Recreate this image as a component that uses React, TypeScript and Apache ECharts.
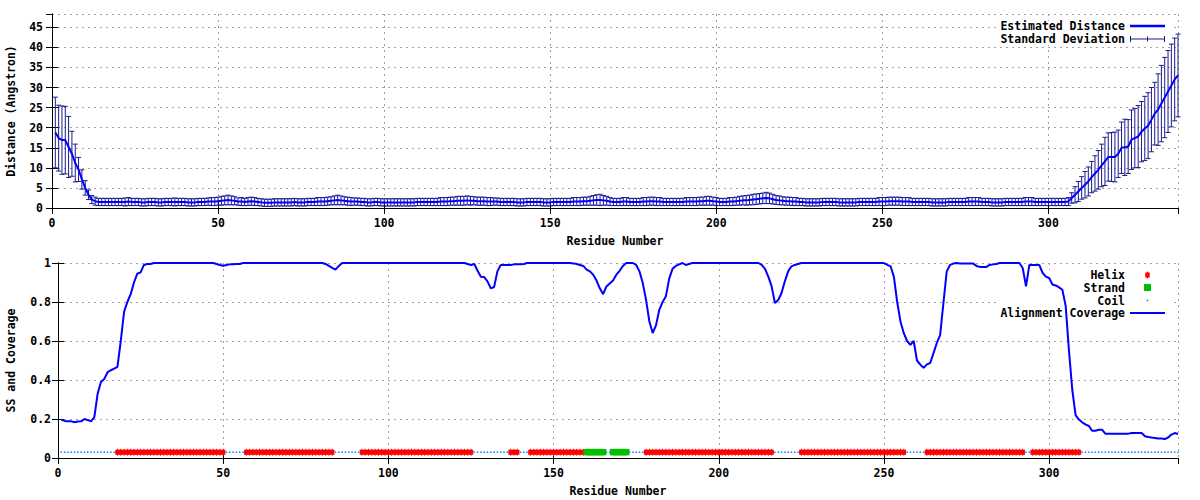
import React, { useEffect, useRef } from 'react';
import * as echarts from 'echarts';

// ---------- data ----------
const RESIDUE_MAX = 339;
const X_TICK_STEP = 50;
const DIST_TICK_STEP = 5;
const DIST_AXIS_MAX = 48.3;
const SS_LEVEL = 0.03;

// Estimated distance (Angstrom), residues 1-14
const distStart = [18.8, 17.4, 16.9, 16.9, 15.2, 13.5, 11.2, 9.6, 7.1, 5.0, 3.3, 2.1, 1.7, 1.5];
// residues 15-305
const distMid = [
  1.5, 1.5, 1.5, 1.5, 1.5, 1.5, 1.5, 1.5, 1.6, 1.5,
  1.5, 1.5, 1.4, 1.4, 1.5, 1.5, 1.5, 1.4, 1.4, 1.5,
  1.5, 1.5, 1.5, 1.5, 1.5, 1.5, 1.4, 1.4, 1.4, 1.5,
  1.5, 1.5, 1.6, 1.6, 1.6, 1.7, 1.8, 1.9, 2.0, 1.9,
  1.8, 1.6, 1.6, 1.5, 1.6, 1.7, 1.6, 1.5, 1.4, 1.3,
  1.3, 1.3, 1.4, 1.4, 1.4, 1.4, 1.4, 1.4, 1.5, 1.4,
  1.4, 1.4, 1.5, 1.5, 1.5, 1.6, 1.6, 1.6, 1.7, 1.8,
  1.9, 2.0, 1.9, 1.8, 1.7, 1.6, 1.6, 1.6, 1.5, 1.5,
  1.4, 1.4, 1.5, 1.5, 1.4, 1.4, 1.4, 1.4, 1.4, 1.4,
  1.4, 1.4, 1.4, 1.4, 1.4, 1.5, 1.5, 1.5, 1.5, 1.5,
  1.5, 1.5, 1.6, 1.6, 1.6, 1.7, 1.7, 1.8, 1.8, 1.8,
  1.9, 1.8, 1.8, 1.7, 1.7, 1.7, 1.6, 1.6, 1.6, 1.6,
  1.5, 1.5, 1.5, 1.5, 1.5, 1.4, 1.4, 1.4, 1.5, 1.5,
  1.5, 1.5, 1.5, 1.4, 1.4, 1.4, 1.5, 1.5, 1.5, 1.5,
  1.5, 1.5, 1.6, 1.6, 1.6, 1.7, 1.7, 1.8, 1.9, 2.0,
  2.0, 1.9, 1.8, 1.6, 1.5, 1.5, 1.5, 1.6, 1.6, 1.5,
  1.5, 1.5, 1.5, 1.6, 1.6, 1.7, 1.7, 1.6, 1.6, 1.5,
  1.5, 1.5, 1.5, 1.5, 1.5, 1.5, 1.6, 1.6, 1.6, 1.6,
  1.7, 1.7, 1.8, 1.8, 1.7, 1.6, 1.5, 1.5, 1.5, 1.6,
  1.6, 1.7, 1.8, 1.9, 1.9, 2.0, 2.1, 2.2, 2.3, 2.4,
  2.5, 2.4, 2.2, 2.0, 1.9, 1.8, 1.7, 1.7, 1.6, 1.6,
  1.5, 1.5, 1.4, 1.4, 1.4, 1.4, 1.4, 1.5, 1.5, 1.5,
  1.5, 1.5, 1.4, 1.4, 1.4, 1.4, 1.4, 1.4, 1.5, 1.5,
  1.5, 1.5, 1.5, 1.5, 1.6, 1.6, 1.6, 1.7, 1.7, 1.7,
  1.7, 1.6, 1.6, 1.6, 1.5, 1.5, 1.5, 1.5, 1.5, 1.5,
  1.4, 1.4, 1.4, 1.4, 1.4, 1.5, 1.5, 1.5, 1.5, 1.5,
  1.5, 1.6, 1.6, 1.6, 1.6, 1.5, 1.5, 1.5, 1.4, 1.4,
  1.4, 1.4, 1.5, 1.5, 1.5, 1.5, 1.5, 1.5, 1.6, 1.6,
  1.6, 1.5, 1.5, 1.5, 1.5, 1.5, 1.5, 1.5, 1.5, 1.5,
  1.5,
];
// residues 306-339
const distEnd = [
  1.6, 2.5, 3.3, 4.1, 5.0, 5.8, 6.6, 7.7, 8.6, 9.5,
  10.6, 11.6, 12.7, 12.7, 12.7, 13.5, 15.0, 15.1, 15.3, 17.0,
  17.4, 17.8, 19.0, 19.8, 20.5, 22.0, 23.5, 24.5, 26.0, 27.5,
  29.0, 30.5, 32.0, 33.0,
];

// Standard deviation, same residue ranges
const sdStart = [8.8, 8.2, 8.5, 8.4, 7.6, 5.6, 4.7, 3.0, 2.4, 1.8, 1.2, 1.0, 1.0, 0.9];
const sdMid = [
  0.9, 0.9, 0.9, 0.9, 0.9, 0.9, 0.9, 1.0, 1.0, 0.9,
  0.9, 0.9, 0.9, 0.9, 0.9, 0.9, 0.9, 0.9, 0.9, 0.9,
  0.9, 0.9, 1.0, 0.9, 0.9, 0.9, 0.9, 0.9, 0.9, 0.9,
  0.9, 0.9, 0.9, 1.0, 1.0, 1.0, 1.1, 1.1, 1.2, 1.1,
  1.0, 0.9, 1.0, 0.9, 1.0, 1.0, 1.0, 0.9, 0.9, 0.9,
  0.9, 0.9, 0.9, 0.9, 0.9, 0.9, 0.9, 0.9, 0.9, 0.9,
  0.9, 0.9, 0.9, 0.9, 0.9, 1.0, 1.0, 1.0, 1.0, 1.0,
  1.1, 1.2, 1.1, 1.0, 1.0, 1.0, 0.9, 0.9, 0.9, 0.9,
  0.9, 0.9, 0.9, 0.9, 0.9, 0.9, 0.9, 0.9, 0.9, 0.9,
  0.9, 0.9, 0.9, 0.9, 0.9, 0.9, 0.9, 0.9, 0.9, 0.9,
  0.9, 0.9, 1.0, 1.0, 1.0, 1.0, 1.0, 1.1, 1.1, 1.1,
  1.1, 1.1, 1.0, 1.0, 1.0, 1.0, 1.0, 1.0, 0.9, 0.9,
  0.9, 0.9, 0.9, 0.9, 0.9, 0.9, 0.9, 0.9, 0.9, 0.9,
  0.9, 0.9, 0.9, 0.9, 0.9, 0.9, 0.9, 0.9, 0.9, 0.9,
  0.9, 0.9, 1.0, 1.0, 1.0, 1.0, 1.0, 1.1, 1.2, 1.3,
  1.4, 1.2, 1.1, 1.0, 0.9, 0.9, 0.9, 1.0, 1.0, 0.9,
  0.9, 0.9, 0.9, 1.0, 1.0, 1.0, 1.0, 1.0, 1.0, 0.9,
  0.9, 0.9, 0.9, 0.9, 0.9, 0.9, 1.0, 1.0, 1.0, 1.0,
  1.0, 1.0, 1.1, 1.1, 1.0, 1.0, 0.9, 0.9, 0.9, 1.0,
  1.0, 1.0, 1.1, 1.1, 1.2, 1.2, 1.3, 1.3, 1.3, 1.3,
  1.4, 1.3, 1.2, 1.1, 1.1, 1.0, 1.0, 1.0, 1.0, 1.0,
  0.9, 0.9, 0.9, 0.9, 0.9, 0.9, 0.9, 0.9, 0.9, 0.9,
  0.9, 0.9, 0.9, 0.9, 0.9, 0.9, 0.9, 0.9, 0.9, 0.9,
  0.9, 0.9, 0.9, 0.9, 1.0, 1.0, 1.0, 1.0, 1.0, 1.0,
  1.0, 1.0, 1.0, 1.0, 0.9, 0.9, 0.9, 0.9, 0.9, 0.9,
  0.9, 0.9, 0.9, 0.9, 0.9, 0.9, 0.9, 0.9, 0.9, 0.9,
  0.9, 1.0, 1.0, 1.0, 1.0, 0.9, 0.9, 0.9, 0.9, 0.9,
  0.9, 0.9, 0.9, 0.9, 0.9, 0.9, 0.9, 0.9, 1.0, 1.0,
  1.0, 0.9, 0.9, 0.9, 0.9, 0.9, 0.9, 0.9, 0.9, 0.9,
  0.9,
];
const sdEnd = [
  1.0, 1.3, 2.0, 2.5, 2.8, 3.3, 3.6, 3.9, 4.4, 4.8,
  5.3, 6.0, 6.0, 6.1, 6.2, 5.9, 6.4, 7.0, 6.7, 7.4,
  7.4, 7.7, 7.5, 8.0, 8.2, 8.0, 7.8, 8.9, 9.5, 10.0,
  10.2, 10.3, 10.3, 10.3,
];

// Alignment coverage per residue 1-339
const coverage = [
  0.197, 0.19, 0.188, 0.188, 0.183, 0.187, 0.188, 0.2, 0.194, 0.188,
  0.21, 0.33, 0.39, 0.405, 0.44, 0.45, 0.458, 0.467, 0.6, 0.75,
  0.8, 0.84, 0.9, 0.945, 0.952, 0.99, 0.995, 0.995, 1, 1,
  1, 1, 1, 1, 1, 1, 1, 1, 1, 1,
  1, 1, 1, 1, 1, 1, 1, 0.995, 0.99, 0.986,
  0.99, 0.993, 0.993, 0.995, 0.995, 1, 1, 1, 1, 1,
  1, 1, 1, 1, 1, 1, 1, 1, 1, 1,
  1, 1, 1, 1, 1, 1, 1, 1, 1, 1,
  0.995, 0.985, 0.975, 0.966, 0.985, 1, 1, 1, 1, 1,
  1, 1, 1, 1, 1, 1, 1, 1, 1, 1,
  1, 1, 1, 1, 1, 1, 1, 1, 1, 1,
  1, 1, 1, 1, 1, 1, 1, 1, 1, 1,
  1, 1, 1, 0.995, 0.99, 0.995, 0.96, 0.93, 0.928, 0.906,
  0.87, 0.877, 0.957, 0.99, 0.99, 0.99, 0.99, 0.993, 0.993, 0.993,
  0.995, 1, 1, 1, 1, 1, 1, 1, 1, 1,
  1, 1, 1, 1, 1, 0.998, 0.995, 0.99, 0.985, 0.966,
  0.957, 0.94, 0.91, 0.87, 0.84, 0.88, 0.895, 0.91, 0.94, 0.96,
  0.985, 1, 1, 1, 0.99, 0.957, 0.897, 0.81, 0.7, 0.641,
  0.68, 0.76, 0.8, 0.83, 0.92, 0.97, 0.985, 0.993, 1, 0.99,
  0.995, 1, 1, 1, 1, 1, 1, 1, 1, 1,
  1, 1, 1, 1, 1, 1, 1, 1, 1, 1,
  1, 1, 0.99, 0.97, 0.93, 0.88, 0.795, 0.81, 0.846, 0.906,
  0.957, 0.983, 0.99, 0.995, 1, 1, 1, 1, 1, 1,
  1, 1, 1, 1, 1, 1, 1, 1, 1, 1,
  1, 1, 1, 1, 1, 1, 1, 1, 1, 1,
  0.99, 0.983, 0.93, 0.8, 0.7, 0.64, 0.6, 0.58, 0.6, 0.5,
  0.479, 0.462, 0.48, 0.487, 0.538, 0.59, 0.63, 0.795, 0.957, 0.99,
  0.997, 1, 0.998, 0.997, 0.997, 0.997, 0.997, 0.985, 0.98, 0.98,
  0.98, 0.99, 0.993, 0.995, 1, 1, 1, 1, 1, 1,
  1, 0.974, 0.88, 0.99, 0.99, 0.99, 0.99, 0.95, 0.93, 0.923,
  0.89, 0.885, 0.875, 0.863, 0.78, 0.55, 0.35, 0.22, 0.197, 0.183,
  0.172, 0.165, 0.14, 0.14, 0.145, 0.145, 0.125, 0.125, 0.125, 0.125,
  0.125, 0.125, 0.125, 0.125, 0.128, 0.128, 0.128, 0.128, 0.112, 0.108,
  0.105, 0.103, 0.1, 0.1, 0.097, 0.105, 0.12, 0.128, 0.123,
];

// Secondary structure segments [first residue, last residue]
const helixSegments = [
  [18, 50], [57, 83], [92, 125], [137, 139], [143, 159],
  [178, 216], [225, 256], [263, 292], [295, 309],
];
const strandSegments = [[160, 165], [168, 172]];

// ---------- styling ----------
const FONT = "'DejaVu Sans Mono', monospace";
const FS = 11.5;
const txt = { fontFamily: FONT, fontSize: FS, fontWeight: 'bold' as const, color: '#000' };
const GRID_LINE = { color: '#a0a0a0', width: 1, type: [2, 4] as number[] };
const HELIX_PATH = 'path://M0,1h1.75v-1h1v1h1.75v5h-1.75v1h-1v-1h-1.75z';
const SQUARE_PATH = 'path://M0,0h1v1h-1z';
// legend sample box: icon centre sits 17.5px left of the legend's right anchor for full-width icons
const LEGEND_ICON_CENTRE_RIGHT = 52.5;

export default function App() {
  const ref = useRef<HTMLDivElement>(null);

  useEffect(() => {
    if (!ref.current) return;
    const chart = echarts.init(ref.current, null, { renderer: 'svg' });

    const dist = [...distStart, ...distMid, ...distEnd];
    const sd = [...sdStart, ...sdMid, ...sdEnd];
    const distData = dist.map((d, i) => [i + 1, d]);
    const errData = dist.map((d, i) => [i + 1, d - sd[i], d + sd[i]]);
    const covData = coverage.map((c, i) => [i + 1, c]);

    const inSeg = (r: number, segs: number[][]) => segs.some(([a, b]) => r >= a && r <= b);
    const helixData: number[][] = [];
    const strandData: number[][] = [];
    const coilData: number[][] = [];
    for (let r = 1; r <= RESIDUE_MAX; r++) {
      if (inSeg(r, helixSegments)) helixData.push([r, SS_LEVEL]);
      else if (inSeg(r, strandSegments)) strandData.push([r, SS_LEVEL]);
      else coilData.push([r, SS_LEVEL]);
    }

    const xAxisMain = (gridIndex: number, name: string) => ({
      type: 'value',
      gridIndex,
      min: 0,
      max: RESIDUE_MAX,
      interval: X_TICK_STEP,
      name,
      nameLocation: 'middle',
      nameGap: 27,
      nameTextStyle: txt,
      axisLine: { show: true, lineStyle: { color: '#000', width: 1 } },
      axisTick: { show: true, inside: true, length: 6, lineStyle: { color: '#000' } },
      axisLabel: {
        ...txt,
        margin: 9,
        showMaxLabel: false,
        formatter: (v: number) => (v % X_TICK_STEP === 0 ? String(v) : ''),
      },
      splitLine: { show: true, lineStyle: GRID_LINE },
    });
    const xAxisMirror = (gridIndex: number) => ({
      type: 'value',
      gridIndex,
      position: 'top',
      min: 0,
      max: RESIDUE_MAX,
      interval: X_TICK_STEP,
      axisLine: { show: true, lineStyle: { color: '#000', width: 1 } },
      axisTick: { show: true, inside: true, length: 6, lineStyle: { color: '#000' } },
      axisLabel: { show: false },
      splitLine: { show: false },
    });
    const yAxisMirror = (gridIndex: number, max: number, interval: number) => ({
      type: 'value',
      gridIndex,
      position: 'right',
      min: 0,
      max,
      interval,
      axisLine: { show: true, lineStyle: { color: '#000', width: 1 } },
      axisTick: { show: true, inside: true, length: 6, lineStyle: { color: '#000' } },
      axisLabel: { show: false },
      splitLine: { show: false },
    });

    const legendBase = {
      orient: 'horizontal',
      align: 'right',
      right: 35,
      padding: 0,
      itemWidth: 35,
      selectedMode: false,
      symbolKeepAspect: true,
      textStyle: txt,
    };
    // small (narrow) icons: the legend box ends at the icon's right edge
    const smallIconRight = (iconWidth: number) => LEGEND_ICON_CENTRE_RIGHT - iconWidth / 2;

    const option: any = {
      animation: false,
      backgroundColor: '#fff',
      textStyle: { fontFamily: FONT },
      grid: [
        { left: 52, right: 22, top: 14, height: 194, containLabel: false, outerBoundsMode: 'none' },
        { left: 58, right: 22, top: 263, height: 195, containLabel: false, outerBoundsMode: 'none' },
      ],
      xAxis: [
        xAxisMain(0, 'Residue Number'),
        xAxisMirror(0),
        xAxisMain(1, 'Residue Number'),
        xAxisMirror(1),
      ],
      yAxis: [
        {
          type: 'value',
          gridIndex: 0,
          min: 0,
          max: DIST_AXIS_MAX,
          interval: DIST_TICK_STEP,
          name: 'Distance (Angstron)',
          nameLocation: 'middle',
          nameGap: 35.5,
          nameTextStyle: txt,
          axisLine: { show: true, lineStyle: { color: '#000', width: 1 } },
          axisTick: { show: true, inside: true, length: 6, lineStyle: { color: '#000' } },
          axisLabel: {
            ...txt,
            margin: 9,
            showMaxLabel: false,
            formatter: (v: number) => (v % DIST_TICK_STEP === 0 ? String(v) : ''),
          },
          splitLine: { show: true, lineStyle: GRID_LINE },
        },
        yAxisMirror(0, DIST_AXIS_MAX, DIST_TICK_STEP),
        {
          type: 'value',
          gridIndex: 1,
          min: 0,
          max: 1,
          interval: 0.2,
          name: 'SS and Coverage',
          nameLocation: 'middle',
          nameGap: 41.5,
          nameTextStyle: txt,
          axisLine: { show: true, lineStyle: { color: '#000', width: 1 } },
          axisTick: { show: true, inside: true, length: 6, lineStyle: { color: '#000' } },
          axisLabel: { ...txt, margin: 7 },
          splitLine: { show: true, lineStyle: GRID_LINE },
        },
        yAxisMirror(1, 1, 0.2),
      ],
      graphic: [
        { type: 'rect', z: 1, shape: { x: 997, y: 21, width: 174, height: 24 }, style: { fill: '#fff' } },
        { type: 'rect', z: 1, shape: { x: 997, y: 270, width: 174, height: 50 }, style: { fill: '#fff' } },
      ],
      legend: [
        {
          ...legendBase,
          top: 20,
          itemHeight: 2.5,
          data: [{ name: 'Estimated Distance', icon: 'path://M0,0h35v2.5h-35z' }],
        },
        {
          ...legendBase,
          top: 33,
          itemHeight: 6,
          data: [{
            name: 'Standard Deviation',
            icon: 'path://M0,0h1v6h-1z M0,2.5h35v1h-35z M17,0.5h1v5h-1z M34,0h1v6h-1z',
          }],
        },
        {
          ...legendBase,
          right: smallIconRight(4.5),
          top: 269,
          itemHeight: 7,
          data: [{ name: 'Helix', icon: HELIX_PATH }],
        },
        {
          ...legendBase,
          right: smallIconRight(7),
          top: 281.5,
          itemHeight: 7,
          data: [{ name: 'Strand', icon: SQUARE_PATH }],
        },
        {
          ...legendBase,
          right: smallIconRight(1.5),
          top: 294.5,
          itemHeight: 1.5,
          data: [{ name: 'Coil', icon: SQUARE_PATH }],
        },
        {
          ...legendBase,
          top: 307,
          itemHeight: 2,
          data: [{ name: 'Alignment Coverage', icon: 'path://M0,0h35v2h-35z' }],
        },
      ],
      series: [
        {
          name: 'Standard Deviation',
          type: 'custom',
          xAxisIndex: 0,
          yAxisIndex: 0,
          z: 2,
          itemStyle: { color: '#1a1a8c' },
          encode: { x: 0, y: [1, 2] },
          data: errData,
          renderItem: (_params: any, api: any) => {
            const x = api.value(0);
            const lo = api.coord([x, api.value(1)]);
            const hi = api.coord([x, api.value(2)]);
            const w = 2.5;
            const st = { stroke: '#1a1a8c', lineWidth: 1 };
            return {
              type: 'group',
              children: [
                { type: 'line', shape: { x1: lo[0], y1: lo[1], x2: hi[0], y2: hi[1] }, style: st },
                { type: 'line', shape: { x1: lo[0] - w, y1: lo[1], x2: lo[0] + w, y2: lo[1] }, style: st },
                { type: 'line', shape: { x1: hi[0] - w, y1: hi[1], x2: hi[0] + w, y2: hi[1] }, style: st },
              ],
            };
          },
        },
        {
          name: 'Estimated Distance',
          type: 'line',
          xAxisIndex: 0,
          yAxisIndex: 0,
          z: 3,
          data: distData,
          showSymbol: false,
          symbol: 'none',
          color: '#0000ff',
          lineStyle: { color: '#0000ff', width: 2 },
        },
        {
          name: 'Helix',
          type: 'scatter',
          xAxisIndex: 2,
          yAxisIndex: 2,
          z: 2,
          data: helixData,
          symbol: HELIX_PATH,
          symbolSize: [4.5, 7],
          symbolKeepAspect: false,
          itemStyle: { color: '#ff0000', opacity: 1 },
        },
        {
          name: 'Strand',
          type: 'scatter',
          xAxisIndex: 2,
          yAxisIndex: 2,
          z: 2,
          data: strandData,
          symbol: 'rect',
          symbolSize: 6.5,
          itemStyle: { color: '#00c000', opacity: 1 },
        },
        {
          name: 'Coil',
          type: 'scatter',
          xAxisIndex: 2,
          yAxisIndex: 2,
          z: 2,
          data: coilData,
          symbol: 'rect',
          symbolSize: 1.5,
          itemStyle: { color: '#0080ff', opacity: 1 },
        },
        {
          name: 'Alignment Coverage',
          type: 'line',
          xAxisIndex: 2,
          yAxisIndex: 2,
          z: 3,
          data: covData,
          showSymbol: false,
          symbol: 'none',
          color: '#0000ff',
          lineStyle: { color: '#0000ff', width: 2 },
        },
      ],
    };

    chart.setOption(option);
    return () => chart.dispose();
  }, []);

  return (
    <div
      ref={ref}
      style={{ position: 'absolute', left: 0, top: 0, width: 1200, height: 500, background: '#fff' }}
    />
  );
}
